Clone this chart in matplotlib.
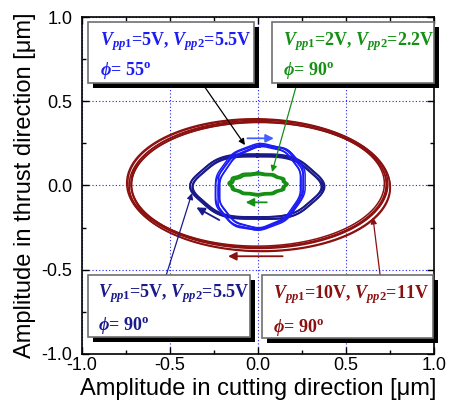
import numpy as np
import matplotlib
matplotlib.use('Agg')
import matplotlib.pyplot as plt
from matplotlib.patches import Rectangle

plt.rcParams['font.family'] = ['Liberation Sans', 'DejaVu Sans']
plt.rcParams['mathtext.fontset'] = 'custom'
plt.rcParams['mathtext.it'] = 'Liberation Serif:bold:italic'
plt.rcParams['mathtext.rm'] = 'Liberation Serif:bold'
plt.rcParams['mathtext.bf'] = 'Liberation Serif:bold'

red_ax = [0.718, 0.726, 0.734, 0.742, 0.748, 0.730]
red_ay = [0.368, 0.374, 0.380, 0.386, 0.392, 0.377]
red_phase_deg = [89.5, 90, 90.5, 91, 91.5, 90.2]
red_cx = [0.000, 0.006, -0.006, 0.010, 0.002, 0.008]
red_cy = [0.008, 0.000, 0.012, -0.006, 0.004, 0.010]
red_ripple = [0.0, 0, 0]          # (amplitude, harmonic, shift in deg)

navy_ax = [0.355, 0.362, 0.368, 0.372]
navy_ay = [0.184, 0.189, 0.194, 0.198]
navy_phase_deg = [90, 88, 92, 90]
navy_cx = [-0.005, -0.002, -0.008, -0.004]
navy_cy = [-0.008, -0.004, -0.010, -0.006]
navy_ripple = [0.028, 6, 90]

blue_ax = [0.232, 0.238, 0.245, 0.252, 0.258]
blue_ay = [0.238, 0.244, 0.250, 0.254, 0.246]
blue_phase_deg = [84, 88, 80, 86, 82]
blue_cx = [0.012, 0.010, 0.015, 0.008, 0.013]
blue_cy = [-0.010, -0.006, -0.012, -0.008, -0.010]
blue_ripple = [0.014, 10, 0]

green_ax = [0.150, 0.155, 0.160, 0.163]
green_ay = [0.056, 0.060, 0.064, 0.067]
green_phase_deg = [90, 86, 94, 90]
green_cx = [0.000, 0.003, -0.003, 0.001]
green_cy = [0.008, 0.006, 0.010, 0.008]
green_ripple = [0.035, 12, 0]

# direction arrows: (x_start, y_start, x_end, y_end) in data units
blue_dir = (-0.06, 0.28, 0.09, 0.28)
red_dir = (0.14, -0.42, -0.17, -0.42)
green_dir = (0.05, -0.10, -0.07, -0.10)
navy_dir = (-0.22, -0.205, -0.35, -0.13)

xticks = [-1.0, -0.5, 0.0, 0.5, 1.0]
yticks = [-1.0, -0.5, 0.0, 0.5, 1.0]

c_red = '#8b1010'
c_navy = '#1a1a8a'
c_blue = '#1c1cf5'
c_green = '#159015'

fig = plt.figure(figsize=(4.49, 4.05), dpi=100)
ax = fig.add_axes([0.1826, 0.126, 0.784, 0.832])


def loop(axs, ays, phs, cxs, cys, ripple, color, lw):
    t = np.linspace(0, 2 * np.pi, 900)
    h, k, s = ripple
    for a, b, p, cx, cy in zip(axs, ays, phs, cxs, cys):
        r = 1 + h * np.cos(k * (t - np.deg2rad(s)))
        x = cx + a * np.sin(t) * r
        y = cy + b * np.sin(t + np.deg2rad(p)) * r
        ax.plot(x, y, color=color, lw=lw, zorder=3)


loop(red_ax, red_ay, red_phase_deg, red_cx, red_cy, red_ripple, c_red, 1.1)
loop(navy_ax, navy_ay, navy_phase_deg, navy_cx, navy_cy, navy_ripple, c_navy, 1.3)
loop(blue_ax, blue_ay, blue_phase_deg, blue_cx, blue_cy, blue_ripple, c_blue, 1.1)
loop(green_ax, green_ay, green_phase_deg, green_cx, green_cy, green_ripple, c_green, 1.4)


def dir_arrow(d, color):
    ax.annotate('', xy=(d[2], d[3]), xytext=(d[0], d[1]),
                arrowprops=dict(arrowstyle='-|>', color=color, lw=1.3,
                                mutation_scale=12, shrinkA=0, shrinkB=0),
                zorder=4)


dir_arrow(blue_dir, '#4060ff')
dir_arrow(red_dir, c_red)
dir_arrow(green_dir, c_green)
dir_arrow(navy_dir, c_navy)

ax.set_xlim(-1, 1)
ax.set_ylim(-1, 1)
ax.set_xticks(xticks)
ax.set_yticks(yticks)
ax.set_xticklabels([f'{v:.1f}' for v in xticks])
ax.set_yticklabels([f'{v:.1f}' for v in yticks])
ax.set_xticks(np.arange(-1, 1.01, 0.25), minor=True)
ax.set_yticks(np.arange(-1, 1.01, 0.25), minor=True)
ax.tick_params(which='both', direction='in', top=True, right=True, labelsize=13)
ax.tick_params(which='major', length=5, width=1)
ax.tick_params(which='minor', length=3, width=1)
ax.tick_params(axis='x', which='major', pad=2)
ax.tick_params(axis='y', which='major', pad=7)
for s in ax.spines.values():
    s.set_linewidth(1.2)
ax.grid(True, which='major', color='#2020ff', linestyle=(0, (1, 2)), lw=0.8)
ax.set_xlabel('Amplitude in cutting direction [μm]', fontsize=17, labelpad=3)
ax.set_ylabel('Amplitude in thrust direction [μm]', fontsize=17, labelpad=4)


def box(x0, y0, x1, y1):
    sh = Rectangle((x0 + 0.0142, y0 - 0.0148), x1 - x0, y1 - y0, transform=ax.transAxes,
                   facecolor='black', edgecolor='none', zorder=6, clip_on=False)
    ax.add_patch(sh)
    bx = Rectangle((x0, y0), x1 - x0, y1 - y0, transform=ax.transAxes,
                   facecolor='white', edgecolor='#707070', lw=1.2, zorder=7, clip_on=False)
    ax.add_patch(bx)


def label(x, y1, y2, vals, phi, color):
    ax.text(x, y1, r'$V_{pp\mathit{1}}$=' + vals[0] + r', $V_{pp\mathit{2}}$=' + vals[1],
            transform=ax.transAxes, color=color, fontsize=13,
            family='Liberation Serif', weight='bold', va='baseline', zorder=8)
    ax.text(x, y2, r'$\phi$= ' + phi + r'$^{\mathrm{o}}$',
            transform=ax.transAxes, color=color, fontsize=13,
            family='Liberation Serif', weight='bold', va='baseline', zorder=8)


box(0.017, 0.804, 0.489, 0.985)
label(0.051, 0.917, 0.828, ('5V', '5.5V'), '55', c_blue)
box(0.540, 0.804, 1.0, 0.985)
label(0.571, 0.917, 0.828, ('2V', '2.2V'), '90', c_green)
box(0.017, 0.050, 0.477, 0.233)
label(0.045, 0.169, 0.071, ('5V', '5.5V'), '90', c_navy)
box(0.511, 0.047, 0.997, 0.233)
label(0.543, 0.166, 0.065, ('10V', '11V'), '90', c_red)


def leader(frac, target, color):
    ax.annotate('', xy=target, xycoords='data', xytext=frac, textcoords='axes fraction',
                arrowprops=dict(arrowstyle='-|>', color=color, lw=0.9,
                                mutation_scale=9, shrinkA=0, shrinkB=0),
                zorder=5)


leader((0.341, 0.804), (-0.074, 0.24), 'black')
leader((0.611, 0.804), (0.08, 0.08), c_green)
leader((0.239, 0.233), (-0.375, -0.045), c_navy)
leader((0.847, 0.233), (0.653, -0.19), c_red)

fig.savefig('out.png', dpi=100)
